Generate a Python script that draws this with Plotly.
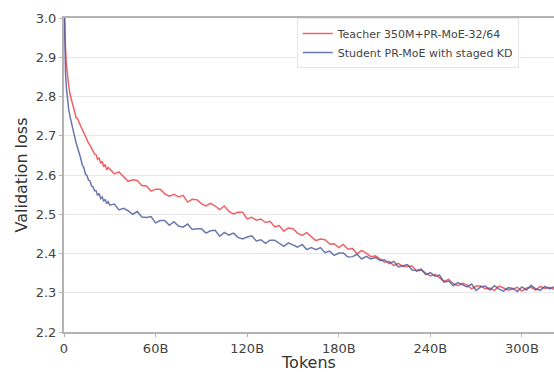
import plotly.graph_objects as go

# Tokens (billions) at which validation loss was read
tokens_b = [0, 0.5, 1, 1.5, 2, 3, 4, 5, 6, 7, 8, 9, 10, 11, 12, 13, 14, 15, 16, 17,
            18, 19, 20, 21, 22, 23, 24, 25, 26, 27, 28, 29,
            30, 33, 36, 39, 42, 45, 48, 51, 54, 57, 60, 63, 66, 69, 72, 75, 78, 81,
            84, 87, 90, 93, 96, 99, 102, 105, 108, 111, 114, 117, 120, 123, 126, 129,
            132, 135, 138, 141, 144, 147, 150, 153, 156, 159, 162, 165, 168, 171, 174,
            177, 180, 183, 186, 189, 192, 195, 198, 201, 204, 207,
            210, 213, 216, 219, 222, 225, 228, 231, 234, 237, 240, 243, 246, 249, 252,
            255, 258, 261, 264, 267, 270, 273, 276, 279, 282, 285, 288, 291, 294, 297,
            300, 303, 306, 309, 312, 315, 318, 321]

teacher_loss = [3.06, 2.97, 2.92, 2.885, 2.86, 2.83, 2.805, 2.79, 2.772, 2.764, 2.746, 2.743,
                2.731, 2.724, 2.716, 2.707, 2.698, 2.690, 2.682, 2.676, 2.668, 2.664, 2.653,
                2.652, 2.640, 2.644, 2.630, 2.635, 2.621, 2.627, 2.613, 2.619,
                2.615, 2.603, 2.608, 2.596, 2.584, 2.588, 2.586, 2.573, 2.572, 2.559, 2.564,
                2.564, 2.552, 2.546, 2.551, 2.544, 2.548, 2.531, 2.538, 2.537, 2.527, 2.521,
                2.528, 2.521, 2.512, 2.521, 2.507, 2.501, 2.505, 2.505, 2.488, 2.492, 2.485,
                2.488, 2.479, 2.482, 2.468, 2.471, 2.457, 2.465, 2.463, 2.452, 2.446, 2.453,
                2.442, 2.433, 2.437, 2.435, 2.424, 2.425, 2.415, 2.423, 2.411, 2.413, 2.399,
                2.408, 2.401, 2.392, 2.394, 2.385,
                2.378, 2.380, 2.369, 2.375, 2.367, 2.367, 2.368, 2.355, 2.358, 2.350, 2.343,
                2.347, 2.338, 2.329, 2.334, 2.323, 2.318, 2.324, 2.320, 2.310, 2.317, 2.317,
                2.310, 2.312, 2.306, 2.317, 2.312, 2.307, 2.309, 2.314, 2.304, 2.312, 2.314,
                2.307, 2.316, 2.311, 2.314, 2.309]

student_loss = [3.06, 2.93, 2.86, 2.825, 2.80, 2.77, 2.748, 2.728, 2.712, 2.697, 2.681, 2.669,
                2.651, 2.642, 2.625, 2.619, 2.603, 2.599, 2.587, 2.585, 2.572, 2.570, 2.560,
                2.560, 2.548, 2.553, 2.540, 2.544, 2.533, 2.538, 2.527, 2.532,
                2.523, 2.526, 2.511, 2.515, 2.509, 2.500, 2.507, 2.493, 2.492, 2.494, 2.478,
                2.484, 2.484, 2.472, 2.481, 2.470, 2.467, 2.475, 2.461, 2.463, 2.463, 2.452,
                2.458, 2.459, 2.444, 2.454, 2.447, 2.452, 2.441, 2.437, 2.442, 2.445, 2.432,
                2.435, 2.426, 2.434, 2.434, 2.425, 2.418, 2.427, 2.422, 2.416, 2.423, 2.410,
                2.415, 2.410, 2.415, 2.402, 2.406, 2.395, 2.401, 2.401, 2.391, 2.392, 2.398,
                2.386, 2.393, 2.386, 2.390, 2.382,
                2.384, 2.374, 2.380, 2.366, 2.369, 2.372, 2.358, 2.357, 2.360, 2.346, 2.351,
                2.342, 2.345, 2.327, 2.330, 2.318, 2.326, 2.320, 2.315, 2.322, 2.306, 2.315,
                2.317, 2.307, 2.318, 2.309, 2.304, 2.313, 2.311, 2.303, 2.315, 2.307, 2.319,
                2.310, 2.306, 2.316, 2.310, 2.315]

x_tick_vals = [0, 60, 120, 180, 240, 300]
x_tick_text = ["0", "60B", "120B", "180B", "240B", "300B"]

series_names = ["Teacher 350M+PR-MoE-32/64", "Student PR-MoE with staged KD"]

FONT = "DejaVu Sans"

fig = go.Figure()
fig.add_trace(go.Scatter(x=tokens_b, y=teacher_loss, mode="lines", name=series_names[0],
                         line=dict(color="rgba(236,70,75,0.85)", width=1.5)))
fig.add_trace(go.Scatter(x=tokens_b, y=student_loss, mode="lines", name=series_names[1],
                         line=dict(color="rgba(70,85,155,0.8)", width=1.5)))

fig.update_layout(
    width=554, height=372,
    margin=dict(l=64, r=0, t=18, b=40),
    paper_bgcolor="white", plot_bgcolor="white",
    font=dict(family=FONT, color="#444444", size=13),
    legend=dict(x=0.475, y=1.0, xanchor="left", yanchor="top",
                bgcolor="rgba(255,255,255,0.9)", bordercolor="#e6e6e6", borderwidth=1,
                font=dict(size=11, color="#444444"), tracegroupgap=0),
    showlegend=True,
)
fig.update_xaxes(
    range=[0, 321], tickvals=x_tick_vals, ticktext=x_tick_text,
    showgrid=False, zeroline=False,
    showline=True, linecolor="#b3b3b3", linewidth=2, mirror=True,
    ticks="outside", ticklen=3, tickcolor="#b3b3b3",
    tickfont=dict(size=13, color="#444444"),
    title=dict(text="Tokens", font=dict(size=16, color="#333333"), standoff=1),
)
fig.update_yaxes(
    range=[2.2, 3.0], dtick=0.1, tickformat=".1f",
    showgrid=True, gridcolor="#e8e8e8", gridwidth=1, zeroline=False,
    showline=True, linecolor="#b3b3b3", linewidth=2,
    ticks="outside", ticklen=3, tickcolor="#b3b3b3",
    tickfont=dict(size=13, color="#444444"),
    title=dict(text="Validation loss", font=dict(size=16, color="#333333"), standoff=4),
)

fig.write_html("out.html")
